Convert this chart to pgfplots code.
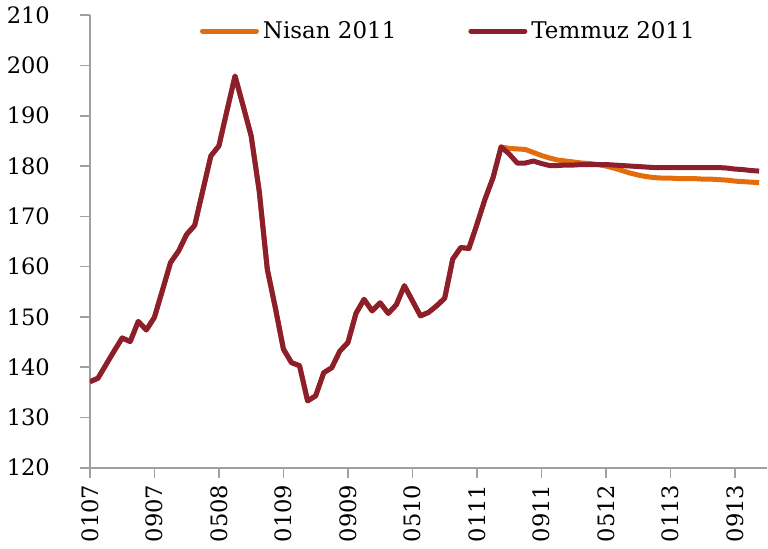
\documentclass[border=0pt]{standalone}
\usepackage{fontspec}
\setmainfont{DejaVu Serif}
\usepackage{pgfplots}
\usepackage{pgfplotstable}
\pgfplotsset{compat=1.18}
\definecolor{nisan}{RGB}{228,108,10}
\definecolor{temmuz}{RGB}{139,31,45}
\definecolor{axgray}{RGB}{160,160,160}
\pgfplotstableread{
i nisan temmuz
0 137.1 137.1
1 137.8 137.8
2 140.5 140.5
3 143.2 143.2
4 145.8 145.8
5 145.1 145.1
6 149.1 149.1
7 147.4 147.4
8 149.9 149.9
9 155.3 155.3
10 160.8 160.8
11 163.1 163.1
12 166.4 166.4
13 168.2 168.2
14 175.1 175.1
15 182.0 182.0
16 184.0 184.0
17 191.0 191.0
18 197.9 197.9
19 192.0 192.0
20 186.0 186.0
21 175.0 175.0
22 159.5 159.5
23 151.8 151.8
24 143.6 143.6
25 140.9 140.9
26 140.3 140.3
27 133.3 133.3
28 134.3 134.3
29 138.9 138.9
30 139.9 139.9
31 143.2 143.2
32 144.9 144.9
33 150.7 150.7
34 153.5 153.5
35 151.2 151.2
36 152.8 152.8
37 150.7 150.7
38 152.4 152.4
39 156.2 156.2
40 153.2 153.2
41 150.2 150.2
42 150.9 150.9
43 152.2 152.2
44 153.7 153.7
45 161.5 161.5
46 163.8 163.8
47 163.6 163.6
48 168.4 168.4
49 173.4 173.4
50 177.7 177.7
51 183.8 183.8
52 183.5 182.4
53 183.4 180.6
54 183.3 180.6
55 182.7 181.0
56 182.1 180.5
57 181.6 180.1
58 181.2 180.1
59 181.0 180.2
60 180.8 180.2
61 180.6 180.3
62 180.5 180.3
63 180.3 180.3
64 180.0 180.3
65 179.6 180.2
66 179.1 180.1
67 178.6 180.0
68 178.2 179.9
69 177.9 179.8
70 177.7 179.7
71 177.6 179.7
72 177.6 179.7
73 177.5 179.7
74 177.5 179.7
75 177.5 179.7
76 177.4 179.7
77 177.4 179.7
78 177.3 179.7
79 177.2 179.6
80 177.0 179.4
81 176.9 179.3
82 176.8 179.1
83 176.7 179.0
}\datatable
\begin{document}
\begin{tikzpicture}
\begin{axis}[
  scale only axis,
  width=339pt, height=226.5pt,
  xmin=0, xmax=84,
  ymin=120, ymax=210,
  axis x line=bottom, axis y line=left,
  axis line style={axgray, line width=0.8pt, -},
  tick style={axgray, line width=0.8pt},
  tick align=outside,
  major tick length=5pt,
  xtick={0,8,...,80},
  xticklabels={0107,0907,0508,0109,0909,0510,0111,0911,0512,0113,0913},
  ytick={120,130,...,210},
  /pgf/number format/assume math mode=true,
  tick label style={font=\fontsize{11.3}{13}\selectfont, black},
  xticklabel style={rotate=90, anchor=east, xshift=0pt},
  yticklabel style={xshift=-11.5pt},
  legend columns=2,
  legend style={draw=none, fill=none, at={(rel axis cs:0.162,0.965)}, anchor=west,
    font=\fontsize{11.5}{13}\selectfont, inner sep=0pt,
    /tikz/every even column/.append style={column sep=34pt}},
  legend image code/.code={\draw[#1, line width=2.5pt, line cap=round] (0pt,0pt) -- (27pt,0pt);},
  every axis plot/.append style={line width=2.5pt, line join=round},
]
\addplot[nisan, mark=none] table[x=i, y=nisan] {\datatable};
\addlegendentry{Nisan 2011}
\addplot[temmuz, mark=none] table[x=i, y=temmuz] {\datatable};
\addlegendentry{Temmuz 2011}
\coordinate (bl) at (rel axis cs:-0.1327,-0.170);
\coordinate (tr) at (rel axis cs:1.0,1.031);
\end{axis}
\path (bl) rectangle (tr);
\end{tikzpicture}
\end{document}
